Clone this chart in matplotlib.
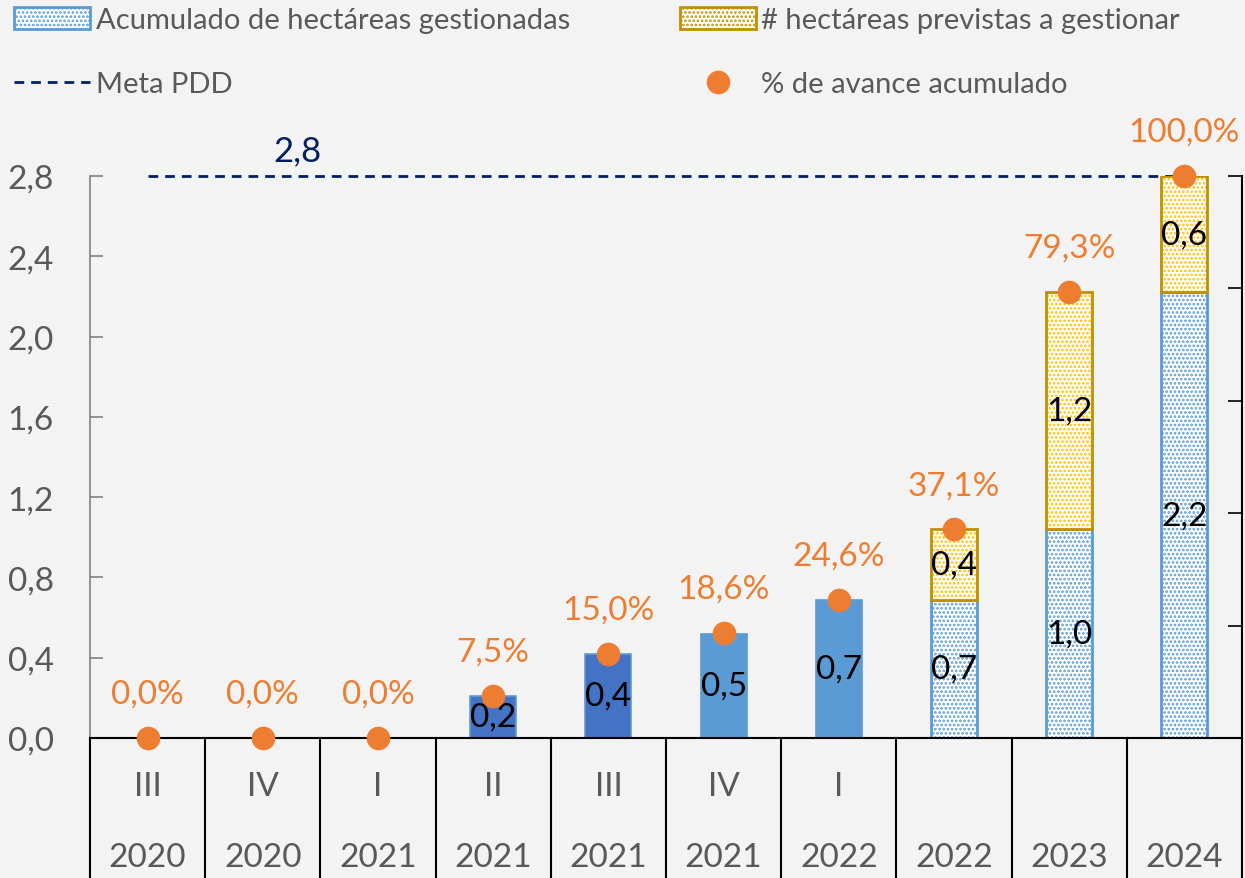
import matplotlib
matplotlib.use('Agg')
import matplotlib.pyplot as plt
from matplotlib.patches import Patch
from matplotlib.lines import Line2D

# ---------------- datos ----------------
trimestres = ['III', 'IV', 'I', 'II', 'III', 'IV', 'I', '', '', '']
anios = ['2020', '2020', '2021', '2021', '2021', '2021', '2022', '2022', '2023', '2024']
acumulado = [0, 0, 0, 0.21, 0.42, 0.52, 0.69, 0.69, 1.04, 2.22]
previstas = [0, 0, 0, 0, 0, 0, 0, 0.35, 1.18, 0.58]
avance = [0.0, 0.0, 0.0, 7.5, 15.0, 18.6, 24.6, 37.1, 79.3, 100.0]
meta = 2.8
yticks = [0.0, 0.4, 0.8, 1.2, 1.6, 2.0, 2.4, 2.8]

# colores
AZUL_OSC = '#4472C4'
AZUL = '#5B9BD5'
AMARILLO = '#FFC000'
DORADO = '#BF9000'
NARANJA = '#ED7D31'
NAVY = '#002060'
GRIS = '#595959'

plt.rcParams['font.family'] = ['Lato', 'DejaVu Sans']
plt.rcParams['hatch.linewidth'] = 1.3


def coma(v, pct=False):
    s = f"{v + 1e-9:.1f}".replace('.', ',')
    return s + '%' if pct else s


fig = plt.figure(figsize=(12.45, 8.79), dpi=100)
fig.patch.set_facecolor('#F3F3F3')
ax = fig.add_axes([90 / 1245, 1 - 739 / 879, 1152 / 1245, 562 / 879])
ax.set_facecolor('none')

x = list(range(len(anios)))
w = 0.4

# barras solidas (trimestres) y rayadas (proyeccion)
solid = [i for i in x if trimestres[i] != '']
proy = [i for i in x if trimestres[i] == '']
col_solid = [AZUL_OSC if i in (3, 4) else AZUL for i in solid]
b1 = ax.bar(solid, [acumulado[i] for i in solid], w, color=col_solid,
            edgecolor=AZUL, linewidth=1.2, zorder=2)
b2 = ax.bar(proy, [acumulado[i] for i in proy], w, color='white',
            edgecolor=AZUL, hatch='....', linewidth=2, zorder=2)
b3 = ax.bar(proy, [previstas[i] for i in proy], w,
            bottom=[acumulado[i] for i in proy], color='white',
            edgecolor=AMARILLO, hatch='....', linewidth=0, zorder=2)
ax.bar(proy, [previstas[i] for i in proy], w,
       bottom=[acumulado[i] for i in proy], fill=False,
       edgecolor=DORADO, linewidth=2, zorder=3)

for bars in (b1, b2, b3):
    labs = [coma(b.get_height()) if b.get_height() > 0 else '' for b in bars]
    ax.bar_label(bars, labels=labs, label_type='center', fontsize=24,
                 color='black', zorder=5)

# meta
ax.plot([x[0], x[-1]], [meta, meta], color=NAVY, lw=2,
        linestyle=(0, (3.5, 2.5)), zorder=1, clip_on=False)
ax.text(1.3, meta + 0.05, coma(meta), color=NAVY, fontsize=25,
        ha='center', va='bottom')

ax.set_xlim(-0.5, len(anios) - 0.5)
ax.set_ylim(0, meta)
ax.set_yticks(yticks)
ax.set_yticklabels([coma(v) for v in yticks])
ax.tick_params(axis='y', direction='in', length=9, width=1.2, colors='#808080',
               labelcolor=GRIS, labelsize=24, pad=26)
ax.tick_params(axis='x', length=0, labelbottom=False)
for s in ('top', 'right'):
    ax.spines[s].set_visible(False)
ax.spines['left'].set_color('#808080')
ax.spines['left'].set_linewidth(1.2)
ax.spines['bottom'].set_color('black')
ax.spines['bottom'].set_linewidth(1.5)

# eje de categorias de dos niveles
tr = ax.get_xaxis_transform()
for k in range(len(anios) + 1):
    ax.plot([k - 0.5, k - 0.5], [0, -0.26], transform=tr, color='black',
            lw=1.5, clip_on=False)
for i in x:
    ax.text(i, -0.085, trimestres[i], transform=tr, ha='center', va='center',
            fontsize=24, color=GRIS)
    ax.text(i, -0.212, anios[i], transform=tr, ha='center', va='center',
            fontsize=24, color=GRIS)

# eje secundario con el % de avance
ax2 = ax.twinx()
ax2.set_ylim(0, 100)
ax2.set_yticks([0, 20, 40, 60, 80, 100])
ax2.tick_params(axis='y', direction='in', length=10, width=1.2,
                labelright=False, color='black')
for s in ('top', 'left', 'bottom'):
    ax2.spines[s].set_visible(False)
ax2.spines['right'].set_linewidth(1.5)
ax2.plot(x, avance, 'o', color=NARANJA, markersize=16, zorder=6, clip_on=False)
for i in x:
    ax2.annotate(coma(avance[i], pct=True), (i, avance[i]), xytext=(0, 32),
                 textcoords='offset points', ha='center', va='center',
                 fontsize=24, color=NARANJA, annotation_clip=False)

# leyenda
handles = [
    Patch(facecolor='white', edgecolor=AZUL, hatch='....', linewidth=2),
    Line2D([0], [0], color=NAVY, lw=2, linestyle=(0, (3.5, 2.5))),
    Patch(facecolor='white', edgecolor=DORADO, hatch='....', linewidth=2),
    Line2D([0], [0], color=NARANJA, marker='o', markersize=16, linestyle='none'),
]
labels = ['Acumulado de hectáreas gestionadas', 'Meta PDD',
          '# hectáreas previstas a gestionar', '% de avance acumulado']
leg = fig.legend(handles, labels, ncol=2, loc='upper left',
                 bbox_to_anchor=(-0.0095, 1.021), frameon=False, fontsize=21,
                 handlelength=2.6, handleheight=0.8, handletextpad=0.2,
                 columnspacing=3.75, labelspacing=1.3, labelcolor=GRIS)

fig.savefig('out.png', dpi=100, facecolor=fig.get_facecolor())
